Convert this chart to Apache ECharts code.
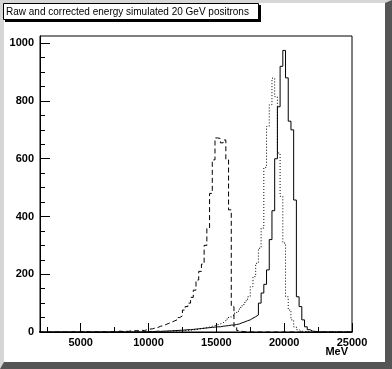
<!DOCTYPE html>
<html><head><meta charset="utf-8">
<script src="https://cdn.jsdelivr.net/npm/echarts@6/dist/echarts.min.js"></script>
<style>html,body{margin:0;padding:0;background:#fff}#c{width:392px;height:369px}</style>
</head><body><div id="c"></div>
<script>
const titleText = 'Raw and corrected energy simulated 20 GeV positrons';
const xAxisName = 'MeV';
const xMin = 2000, xMax = 25000, yMin = 0, yMax = 1025;
const binStart = 1900, binWidth = 200; // bin i covers [binStart+i*w, binStart+(i+1)*w], centres 2000..25000
const xLabelValues = [5000, 10000, 15000, 20000, 25000];
const xMinorTickValues = [2500, 7500, 12500, 17500, 22500];
const yLabelValues = [0, 200, 400, 600, 800, 1000];
const yMinorTickValues = [50, 100, 150, 250, 300, 350, 450, 500, 550, 650, 700, 750, 850, 900, 950];

// raw energy (dashed)
const rawEnergy = [
  0,0,0,0,0,0,0,0,0,0,
  0,0,1,0,0,1,0,1,0,1,
  1,0,2,1,0,2,1,2,1,3,
  2,3,2,4,3,5,4,6,5,8,
  10,11,14,16,20,22,26,30,34,38,
  42,50,56,76,88,100,120,145,180,210,
  235,300,360,480,596,672,670,655,665,596,
  423,88,18,5,2,1,0,0,0,0,
  0,0,0,0,0,0,0,0,0,0,
  0,0,0,0,0,0,0,0,0,0,
  0,0,0,0,0,0,0,0,0,0,
  0,0,0,0,0,0
];
// intermediate energy (dotted)
const dottedEnergy = [
  0,0,0,0,0,0,0,0,0,0,
  0,0,0,0,0,0,0,0,0,0,
  0,0,0,0,0,0,0,0,0,0,
  0,0,0,0,0,0,0,0,0,0,
  1,0,1,0,0,2,0,2,0,3,
  3,4,4,5,5,6,8,8,10,12,
  13,15,17,20,22,25,28,32,38,45,
  52,58,65,72,85,95,108,122,157,192,
  238,290,360,570,712,787,879,815,620,470,
  308,122,76,42,18,8,3,1,0,0,
  0,0,0,0,0,0,0,0,0,0,
  0,0,0,0,0,0
];
// corrected energy (solid)
const correctedEnergy = [
  0,0,0,0,0,0,0,0,0,0,
  0,0,0,0,0,0,0,0,0,0,
  0,0,0,0,0,0,0,0,0,0,
  1,0,0,0,0,1,0,0,2,0,
  2,1,2,3,2,3,3,4,4,5,
  5,6,6,7,8,8,9,10,11,12,
  13,14,15,16,17,18,18,20,21,22,
  24,24,26,28,32,35,39,42,48,53,
  59,100,135,165,215,320,420,600,780,920,
  975,880,730,700,457,122,88,42,18,8,
  3,2,1,0,0,0,0,0,0,0,
  0,0,0,0,0,0
];

function toSteps(vals) {
  const pts = vals.map((v, i) => [binStart + i * binWidth, v]);
  pts.push([binStart + vals.length * binWidth, vals[vals.length - 1]]);
  return pts;
}

const labelFont = { color: '#000', fontFamily: 'Liberation Sans', fontWeight: 'bold', fontSize: 11 };
const plain = v => String(v);
const chart = echarts.init(document.getElementById('c'), null, { renderer: 'canvas' });

function histSeries(name, vals, type) {
  return {
    name, type: 'line', step: 'end', data: toSteps(vals), symbol: 'none',
    xAxisIndex: 0, yAxisIndex: 0, silent: true, clip: true,
    lineStyle: { color: '#000', width: 1, type: type, cap: 'butt' }
  };
}

chart.setOption({
  animation: false,
  backgroundColor: '#fff',
  grid: { left: 40, top: 36, right: 40, bottom: 37, containLabel: false, outerBoundsMode: 'none', show: true, borderColor: '#000', borderWidth: 1, backgroundColor: 'transparent' },
  xAxis: [{
    type: 'value', min: xMin, max: xMax, position: 'bottom',
    axisLine: { show: true, lineStyle: { color: '#000', width: 1 } },
    axisTick: { show: true, inside: true, length: 9, lineStyle: { color: '#000' }, customValues: xLabelValues },
    axisLabel: { show: true, margin: 5, customValues: xLabelValues, formatter: plain, ...labelFont },
    splitLine: { show: false }
  }, {
    type: 'value', min: xMin, max: xMax, position: 'bottom',
    axisLine: { show: false },
    axisTick: { show: true, inside: true, length: 5, lineStyle: { color: '#000' }, customValues: xMinorTickValues },
    axisLabel: { show: false },
    splitLine: { show: false }
  }],
  yAxis: [{
    type: 'value', min: yMin, max: yMax, position: 'left',
    axisLine: { show: true, lineStyle: { color: '#000', width: 1 } },
    axisTick: { show: true, inside: true, length: 10, lineStyle: { color: '#000' }, customValues: yLabelValues },
    axisLabel: { show: true, margin: 6, customValues: yLabelValues, formatter: plain, ...labelFont },
    splitLine: { show: false }
  }, {
    type: 'value', min: yMin, max: yMax, position: 'left',
    axisLine: { show: false },
    axisTick: { show: true, inside: true, length: 5, lineStyle: { color: '#000' }, customValues: yMinorTickValues },
    axisLabel: { show: false },
    splitLine: { show: false }
  }],
  series: [
    histSeries('raw', rawEnergy, [5, 3]),
    histSeries('dotted', dottedEnergy, [1, 2]),
    histSeries('corrected', correctedEnergy, 'solid')
  ],
  graphic: [
    { type: 'rect', shape: { x: 0, y: 0, width: 4, height: 369 }, style: { fill: '#d6d6d6' }, silent: true },
    { type: 'rect', shape: { x: 0, y: 0, width: 392, height: 3 }, style: { fill: '#d6d6d6' }, silent: true },
    { type: 'polygon', shape: { points: [[392, 0], [392, 369], [0, 369], [4, 362], [385, 362], [385, 3]] }, style: { fill: '#555555' }, silent: true },
    { type: 'rect', shape: { x: 5, y: 5, width: 256, height: 17 }, style: { fill: '#000' }, silent: true },
    { type: 'rect', shape: { x: 3.5, y: 3.5, width: 255, height: 16 }, style: { fill: '#fff', stroke: '#000', lineWidth: 1 }, silent: true },
    { type: 'text', x: 6, y: 12, style: { text: titleText, fill: '#000', font: '10px "Liberation Sans"', verticalAlign: 'middle' }, silent: true },
    { type: 'text', x: 348, y: 346, style: { text: xAxisName, fill: '#000', font: 'bold 11px "Liberation Sans"', align: 'right', verticalAlign: 'top' }, silent: true }
  ]
});
</script>
</body></html>
